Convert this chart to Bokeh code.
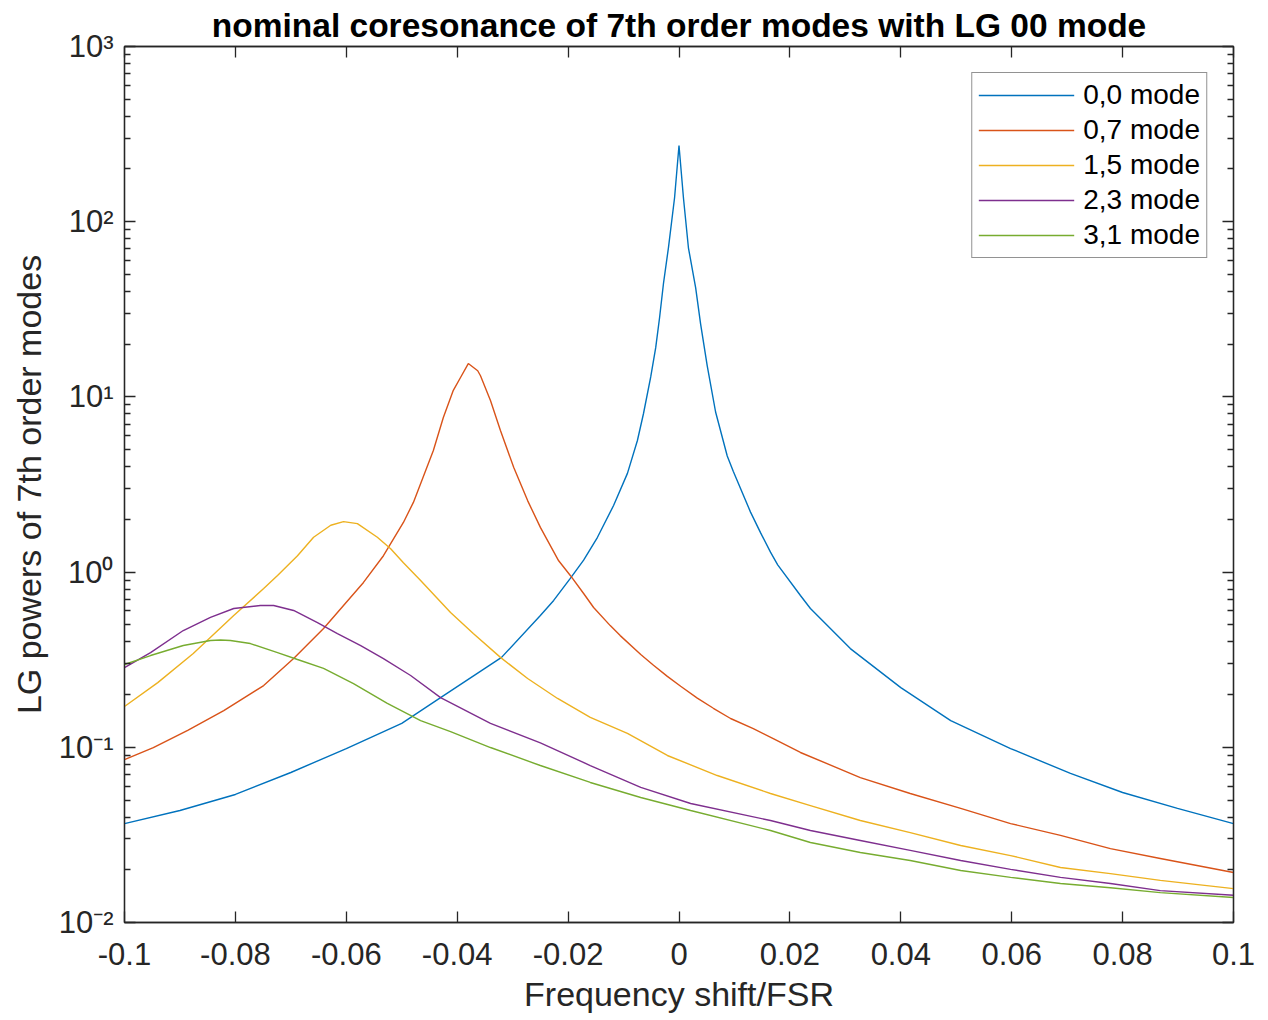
from bokeh.plotting import figure
from bokeh.models import Range1d, FixedTicker, LinearAxis, LogAxis
from bokeh.embed import file_html
from bokeh.resources import INLINE

# ---- data ----
x00 = [-0.1, -0.090, -0.080, -0.070, -0.060, -0.050, -0.043, -0.032, -0.025, -0.0226, -0.0196,
       -0.0172, -0.0147, -0.0118, -0.0093, -0.0075, -0.0064, -0.0051, -0.0042, -0.0035, -0.0028,
       -0.0019, -0.0008, 0.0, 0.0008, 0.0017, 0.0030, 0.0039, 0.0051, 0.0066, 0.0087, 0.0098,
       0.0129, 0.0147, 0.0165, 0.0178, 0.0219, 0.0237, 0.0309, 0.040, 0.049, 0.0598, 0.0706,
       0.080, 0.0899, 0.1]
y00 = [0.0367, 0.0436, 0.0538, 0.0718, 0.0984, 0.137, 0.192, 0.326, 0.565, 0.689, 0.92,
       1.17, 1.58, 2.40, 3.66, 5.64, 8.04, 13.0, 19.1, 28.4, 44.4,
       71.2, 137, 272, 137, 71, 42, 26, 15.0, 8.2, 4.6, 3.75,
       2.2, 1.68, 1.30, 1.10, 0.735, 0.62, 0.366, 0.219, 0.142, 0.0984, 0.0709,
       0.0552, 0.0448, 0.0367]

x07 = [-0.1, -0.0948, -0.0886, -0.0821, -0.0749, -0.0695, -0.0641, -0.0605, -0.0569, -0.0533,
       -0.0497, -0.0479, -0.0443, -0.0425, -0.0407, -0.0394, -0.038, -0.0363, -0.0358, -0.034,
       -0.0322, -0.0298, -0.0273, -0.025, -0.0217, -0.0196, -0.0172, -0.0154, -0.0124, -0.0106,
       -0.0069, -0.0046, -0.0021, 0.0003, 0.0033, 0.0062, 0.0093, 0.0134, 0.017, 0.0219,
       0.0327, 0.0417, 0.0508, 0.0598, 0.0688, 0.0778, 0.0868, 0.1]
y07 = [0.0851, 0.0997, 0.125, 0.162, 0.225, 0.321, 0.477, 0.645, 0.873, 1.24,
       1.92, 2.50, 4.94, 7.63, 10.9, 12.9, 15.5, 14.1, 13.2, 9.54,
       6.43, 3.95, 2.56, 1.80, 1.16, 0.957, 0.755, 0.628, 0.495, 0.434,
       0.339, 0.294, 0.254, 0.223, 0.191, 0.167, 0.146, 0.128, 0.112, 0.0934,
       0.0672, 0.0545, 0.0448, 0.0367, 0.0314, 0.0264, 0.0232, 0.0193]

x15 = [-0.1, -0.094, -0.0876, -0.0803, -0.0749, -0.0724, -0.0688, -0.0659, -0.0628, -0.0605,
       -0.058, -0.0544, -0.052, -0.0497, -0.0466, -0.0412, -0.0371, -0.0322, -0.0273, -0.0219,
       -0.016, -0.0093, -0.0021, 0.0069, 0.0165, 0.0237, 0.0327, 0.0417, 0.0508, 0.0598,
       0.0688, 0.0778, 0.0868, 0.1]
y15 = [0.171, 0.234, 0.343, 0.565, 0.805, 0.957, 1.24, 1.58, 1.85, 1.94,
       1.89, 1.58, 1.36, 1.13, 0.895, 0.588, 0.446, 0.326, 0.247, 0.190,
       0.148, 0.120, 0.0898, 0.0690, 0.0545, 0.0465, 0.0382, 0.0326, 0.0275, 0.0241,
       0.0206, 0.0190, 0.0174, 0.0156]

x23 = [-0.1, -0.0953, -0.0894, -0.0845, -0.0803, -0.0755, -0.0731, -0.0695, -0.0652, -0.0616,
       -0.0574, -0.0533, -0.0484, -0.043, -0.034, -0.025, -0.016, -0.0069, 0.0021, 0.0165,
       0.0237, 0.0327, 0.0417, 0.0508, 0.0598, 0.0688, 0.0778, 0.0868, 0.1]
y23 = [0.285, 0.347, 0.464, 0.551, 0.620, 0.645, 0.645, 0.604, 0.515, 0.446,
       0.381, 0.321, 0.257, 0.192, 0.137, 0.106, 0.0787, 0.0590, 0.0478, 0.0382,
       0.0335, 0.0294, 0.0258, 0.0226, 0.0201, 0.0181, 0.0167, 0.0152, 0.0143]

x31 = [-0.1, -0.0953, -0.0894, -0.0845, -0.0827, -0.0809, -0.0773, -0.0724, -0.0688, -0.0641,
       -0.0587, -0.0526, -0.0466, -0.0412, -0.034, -0.025, -0.016, -0.0069, 0.0021, 0.0165,
       0.0237, 0.0327, 0.0417, 0.0508, 0.0598, 0.0688, 0.0778, 0.0868, 0.1]
y31 = [0.297, 0.334, 0.381, 0.407, 0.41, 0.407, 0.391, 0.347, 0.317, 0.282,
       0.231, 0.178, 0.142, 0.123, 0.0997, 0.0787, 0.0630, 0.0517, 0.0436, 0.0335,
       0.0286, 0.0251, 0.0226, 0.0198, 0.0181, 0.0167, 0.0158, 0.0148, 0.0139]

labels = ["0,0 mode", "0,7 mode", "1,5 mode", "2,3 mode", "3,1 mode"]
colors = ["#0072BD", "#D95319", "#EDB120", "#7E2F8E", "#77AC30"]

x_ticks = [-0.1, -0.08, -0.06, -0.04, -0.02, 0.0, 0.02, 0.04, 0.06, 0.08, 0.1]
x_tick_text = ["-0.1", "-0.08", "-0.06", "-0.04", "-0.02", "0", "0.02", "0.04", "0.06", "0.08", "0.1"]
y_ticks = [0.01, 0.1, 1.0, 10.0, 100.0, 1000.0]
y_tick_text = ["10\u207b\u00b2", "10\u207b\u00b9", "10\u2070", "10\u00b9", "10\u00b2", "10\u00b3"]
y_minor = [m * t for t in y_ticks[:-1] for m in range(2, 10)]

title = "nominal coresonance of 7th order modes with LG 00 mode"
xlabel = "Frequency shift/FSR"
ylabel = "LG powers of 7th order modes"

FONT = "Liberation Sans"
AX = "#262626"

p = figure(width=1268, height=1020, output_backend="svg", toolbar_location=None,
           y_axis_type="log", x_range=Range1d(-0.1, 0.1), y_range=Range1d(0.01, 1000),
           min_border_left=124, min_border_right=35, min_border_top=46, min_border_bottom=98,
           background_fill_color="white", border_fill_color="white")
p.title.text = title
p.title.text_font = FONT
p.title.text_font_size = "33.5px"
p.title.text_font_style = "bold"
p.title.text_color = "black"
p.title.align = "center"
p.title.standoff = 6

p.grid.visible = False
p.outline_line_color = AX
p.outline_line_width = 1.3

xs = [x00, x07, x15, x23, x31]
ys = [y00, y07, y15, y23, y31]
for xv, yv, lab, c in zip(xs, ys, labels, colors):
    p.line(xv, yv, line_color=c, line_width=1.4, legend_label=lab)

xt = FixedTicker(ticks=x_ticks)
yt = FixedTicker(ticks=y_ticks, minor_ticks=y_minor)

def style_axis(ax, show_labels):
    ax.axis_line_color = AX
    ax.axis_line_width = 1.3
    ax.major_tick_line_color = AX
    ax.minor_tick_line_color = AX
    ax.major_tick_line_width = 1.3
    ax.minor_tick_line_width = 1.3
    ax.major_tick_in = 11
    ax.major_tick_out = 0
    ax.minor_tick_in = 6
    ax.minor_tick_out = 0
    ax.major_label_text_font = FONT
    ax.major_label_text_color = AX
    ax.axis_label_text_font = FONT
    ax.axis_label_text_color = AX
    ax.axis_label_text_font_style = "normal"
    if not show_labels:
        ax.major_label_text_font_size = "1px"
        ax.major_label_text_alpha = 0
        ax.major_label_standoff = 0

xa = p.xaxis[0]
xa.ticker = xt
xa.major_label_overrides = dict(zip(x_ticks, x_tick_text))
style_axis(xa, True)
xa.major_label_text_font_size = "31px"
xa.major_label_standoff = 20
xa.axis_label = xlabel
xa.axis_label_text_font_size = "34px"
xa.axis_label_standoff = 7

ya = p.yaxis[0]
ya.ticker = yt
ya.major_label_overrides = dict(zip(y_ticks, y_tick_text))
style_axis(ya, True)
ya.major_label_text_font_size = "31px"
ya.major_label_standoff = 11
ya.axis_label = ylabel
ya.axis_label_text_font_size = "34px"
ya.axis_label_standoff = 8

top = LinearAxis(ticker=FixedTicker(ticks=x_ticks))
style_axis(top, False)
p.add_layout(top, "above")
right = LogAxis(ticker=FixedTicker(ticks=y_ticks, minor_ticks=y_minor))
style_axis(right, False)
p.add_layout(right, "right")

lg = p.legend[0]
lg.location = "top_right"
lg.margin = 26
lg.padding = 6
lg.spacing = 3
lg.glyph_width = 96
lg.glyph_height = 28
lg.label_height = 28
lg.label_standoff = 9
lg.label_text_font = FONT
lg.label_text_font_size = "28px"
lg.label_text_color = "black"
lg.border_line_color = AX
lg.border_line_width = 1.3
lg.background_fill_color = "white"
lg.background_fill_alpha = 1.0

open("out.html", "w").write(file_html(p, INLINE))
